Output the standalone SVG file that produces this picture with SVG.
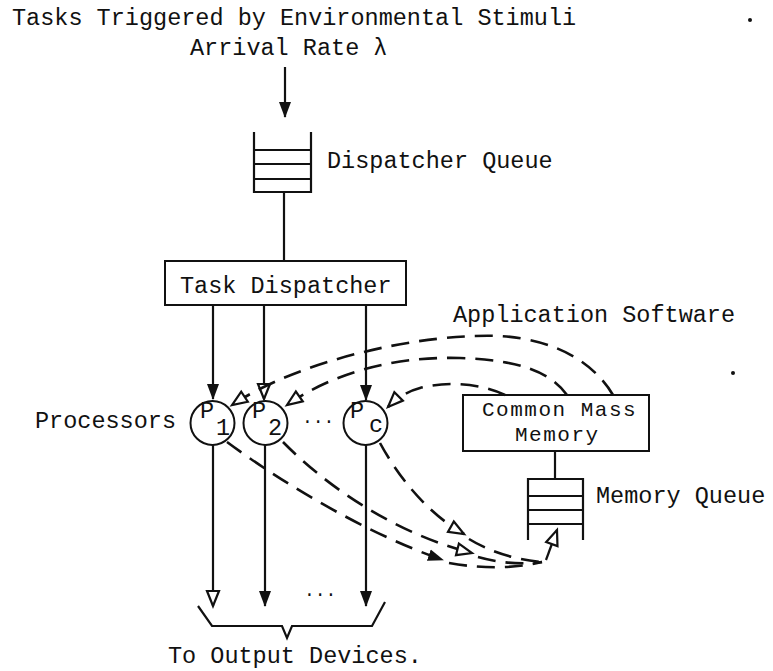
<svg xmlns="http://www.w3.org/2000/svg" width="773" height="671" viewBox="0 0 773 671">
<style>
text{font-family:"Liberation Mono","Courier New",monospace;font-size:23.5px;fill:#111}
.sm{font-size:18px}
.mem{font-size:21px;letter-spacing:1.5px}
.ln{fill:none;stroke:#111;stroke-width:2.2}
.box{fill:#fff;stroke:#111;stroke-width:2}
.dash{fill:none;stroke:#111;stroke-width:2.6;stroke-dasharray:18 10}
</style>
<defs>
<marker id="af" markerUnits="userSpaceOnUse" markerWidth="16" markerHeight="14" viewBox="0 0 16 14" refX="15" refY="7" orient="auto">
<path d="M0,1 L16,7 L0,13 z" fill="#111"/>
</marker>
<marker id="ah" markerUnits="userSpaceOnUse" markerWidth="20" markerHeight="18" viewBox="-2 -2 20 18" refX="15" refY="7" orient="auto">
<path d="M0,1 L15,7 L0,13 z" fill="#fff" stroke="#111" stroke-width="2.2"/>
</marker>
</defs>
<rect width="773" height="671" fill="#fff"/>

<g id="title"><text x="12" y="25">Tasks Triggered by Environmental Stimuli</text></g>
<g id="arrival-label"><text x="190" y="55">Arrival Rate λ</text></g>

<g id="dispatcher-queue">
<path class="ln" d="M254,132 V192 H311 V132 M254,150 H311 M254,164 H311 M254,179 H311"/>
<text x="327" y="168">Dispatcher Queue</text>
</g>

<g id="task-dispatcher">
<rect class="box" x="165" y="261" width="241" height="44"/>
<text x="180" y="293">Task Dispatcher</text>
</g>

<g id="processors-label"><text x="35" y="428">Processors</text></g>

<g id="p1">
<circle class="box" cx="212.5" cy="423" r="22"/>
<text x="200" y="418" font-size="22">P</text>
<text x="216" y="435" font-size="22">1</text>
</g>
<g id="p2">
<circle class="box" cx="265.5" cy="423" r="22"/>
<text x="252" y="418" font-size="22">P</text>
<text x="268" y="435" font-size="22">2</text>
</g>
<text class="sm" x="302" y="423">...</text>
<g id="pc">
<circle class="box" cx="365.5" cy="423" r="22"/>
<text x="350" y="418" font-size="22">P</text>
<text x="369" y="432" font-size="22">c</text>
</g>

<g id="app-software"><text x="453" y="322">Application Software</text></g>

<g id="common-mass-memory">
<rect class="box" x="463" y="395" width="186" height="56"/>
<text class="mem" x="482" y="416">Common Mass</text>
<text class="mem" x="515" y="441">Memory</text>
</g>

<g id="memory-queue">
<path class="ln" d="M528,540 V479 H583 V540 M528,496 H583 M528,510 H583 M528,524 H583"/>
<text x="596" y="503">Memory Queue</text>
</g>

<g id="output">
<path class="ln" d="M198,606 L212,626 H282 L287,638 L292,626 H372 L385,602"/>
<text class="sm" x="304" y="596">...</text>
<text x="168" y="663">To Output Devices.</text>
</g>

<g id="specks">
<circle cx="750" cy="20" r="2" fill="#111"/>
<circle cx="733" cy="373" r="2" fill="#111"/>
</g>

<g id="connectors">
<path class="ln" d="M285,67 V117" marker-end="url(#af)"/>
<path class="ln" d="M284,192 V261"/>
<path class="ln" d="M213,305 V399" marker-end="url(#af)"/>
<path class="ln" d="M264,305 V399" marker-end="url(#ah)"/>
<path class="ln" d="M366,305 V400" marker-end="url(#af)"/>
<path class="ln" d="M213,445 V606" marker-end="url(#ah)"/>
<path class="ln" d="M265,445 V606" marker-end="url(#af)"/>
<path class="ln" d="M366,445 V606" marker-end="url(#af)"/>
<path class="ln" d="M555,451 V479"/>

<path class="dash" d="M613,395 C595,365 560,340 500,336 C420,333 300,360 232,405" marker-end="url(#ah)"/>
<path class="dash" d="M567,395 C550,372 520,360 460,358 C390,356 330,375 287,405" marker-end="url(#ah)"/>
<path class="dash" d="M505,395 C485,385 450,380 420,388 C405,392 395,400 388,407" marker-end="url(#ah)"/>

<path class="dash" d="M227,442 C285,485 370,535 443,560" marker-end="url(#af)"/>
<path class="dash" d="M283,442 C330,490 400,535 472,553" marker-end="url(#ah)"/>
<path class="dash" d="M380,443 C400,480 430,515 464,534" marker-end="url(#ah)"/>
<path class="dash" d="M449,563 Q500,572 542,562"/>
<path class="dash" d="M478,557 Q510,566 542,562"/>
<path class="dash" d="M469,539 Q500,558 542,562"/>
<path class="ln" d="M546,560 L557,530" marker-end="url(#ah)"/>
</g>
</svg>
